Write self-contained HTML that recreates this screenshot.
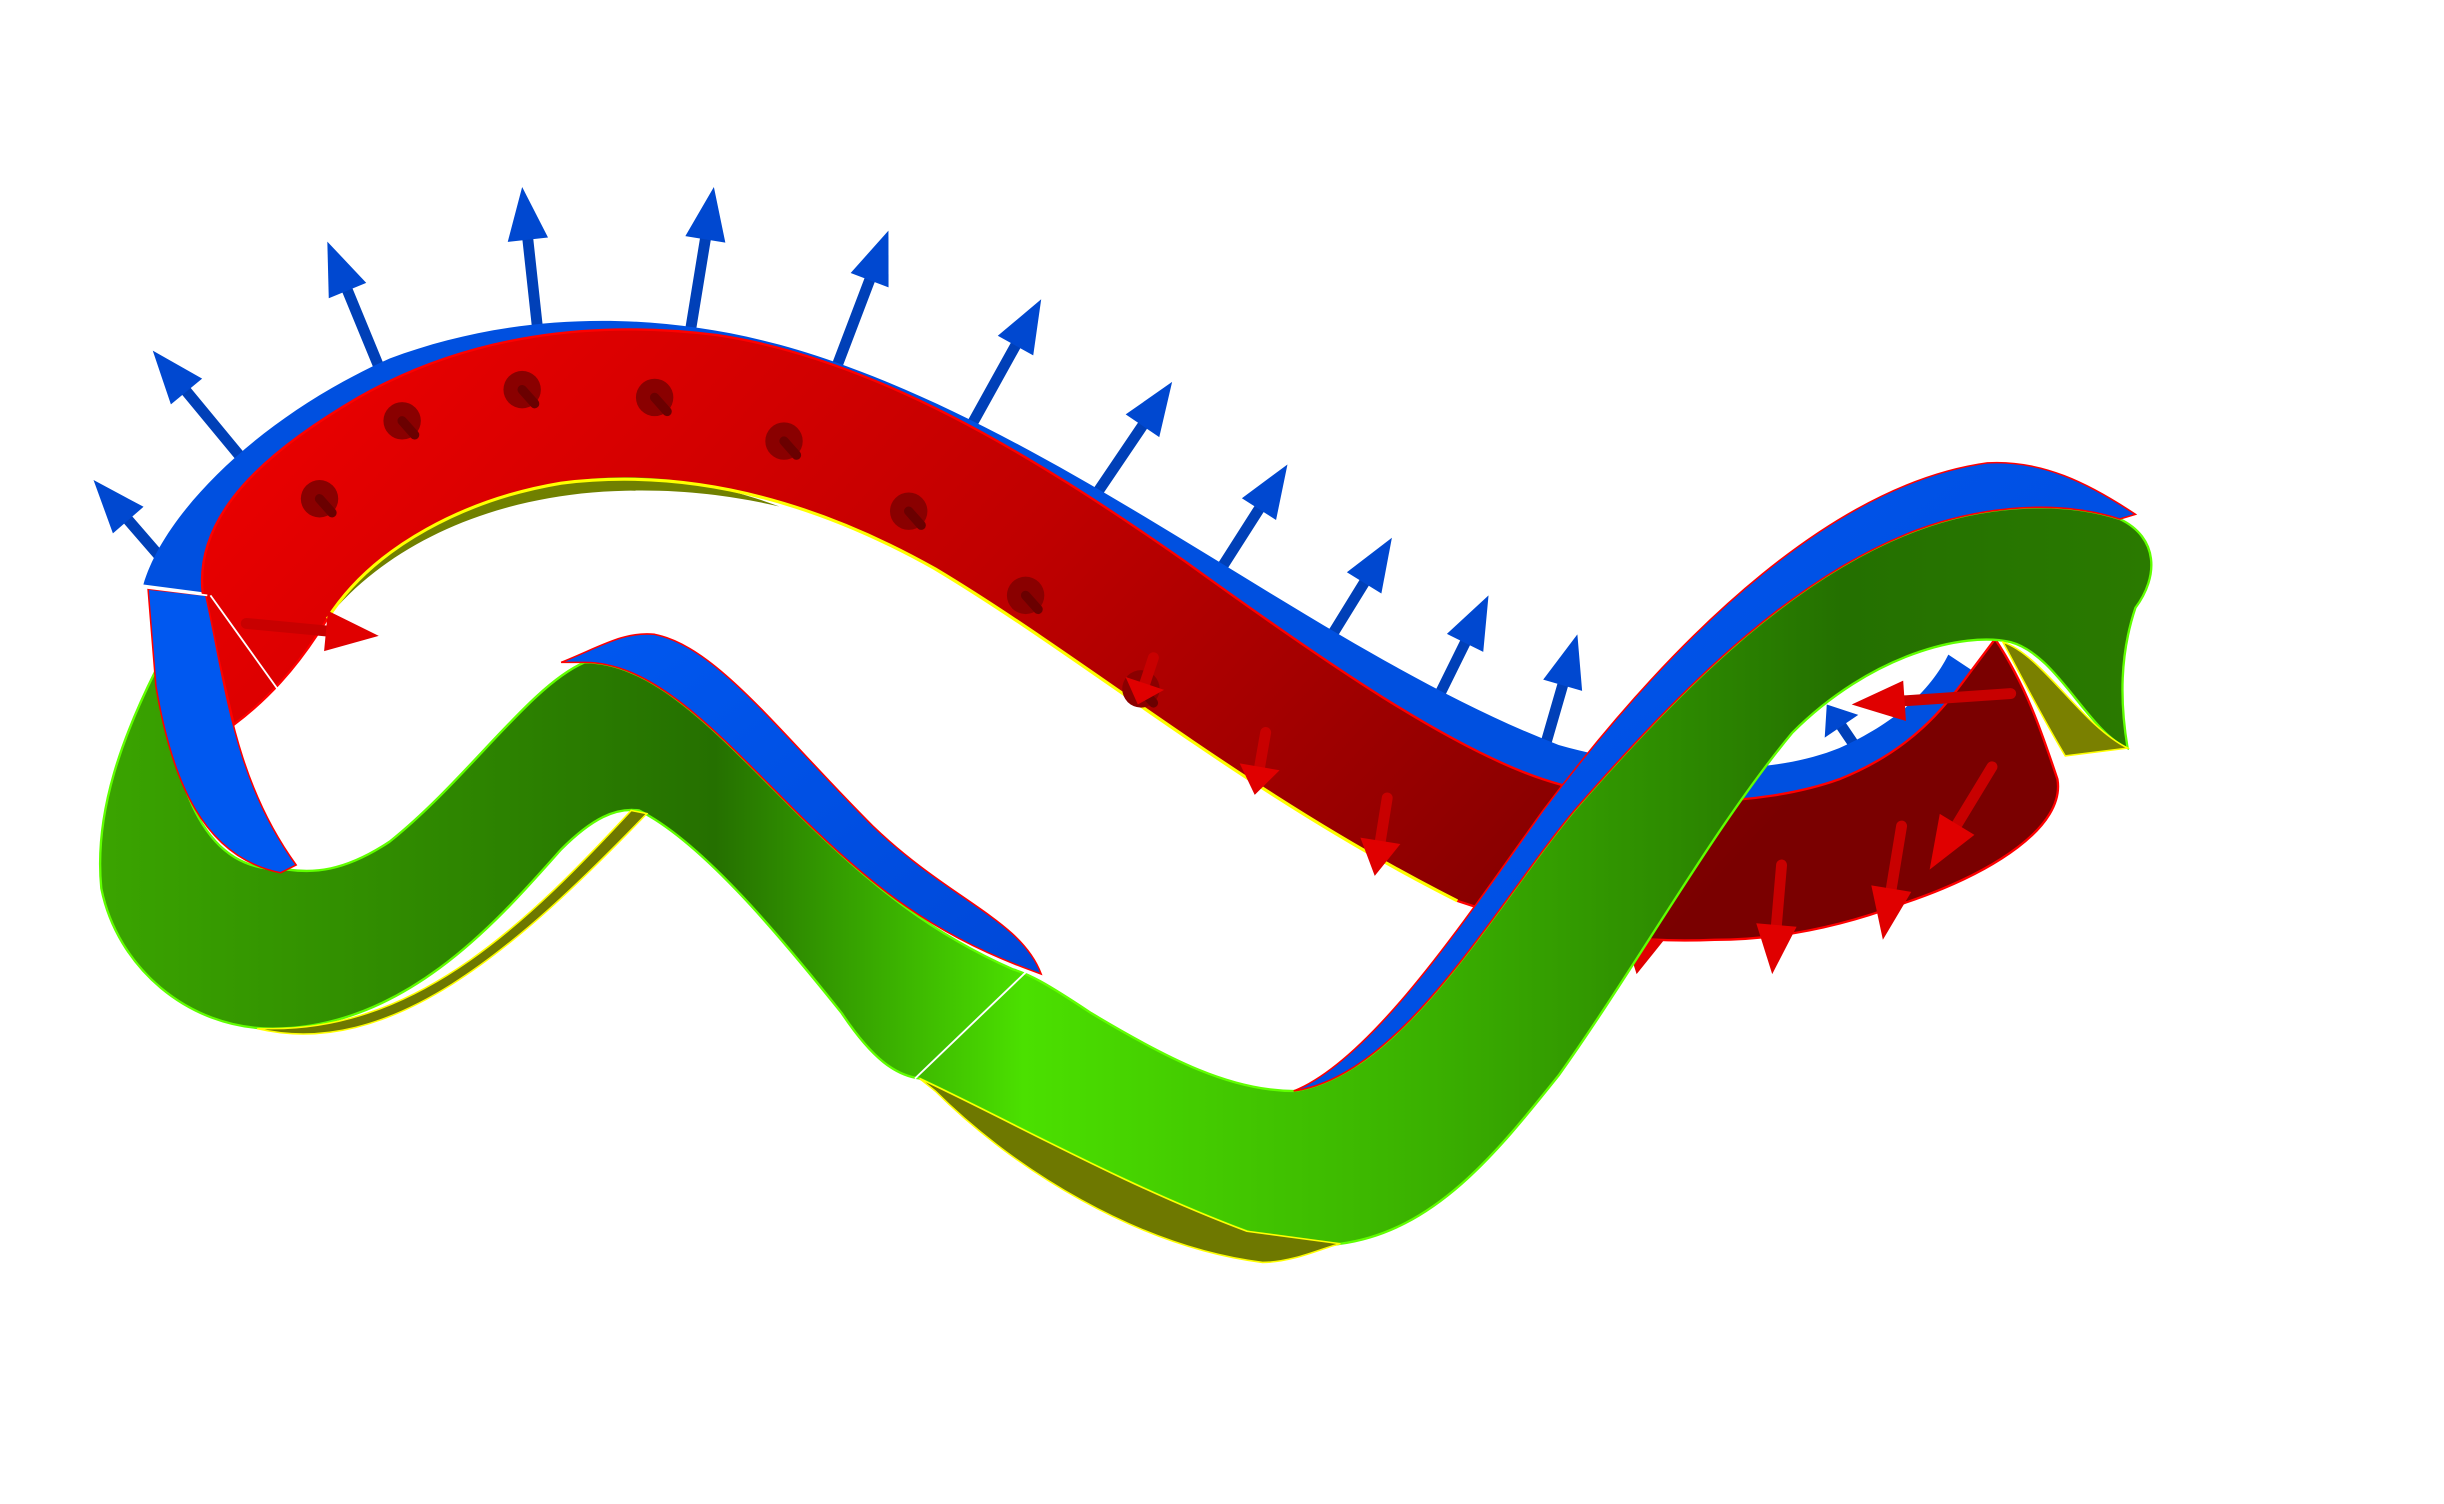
<!DOCTYPE html>
<html><head><meta charset="utf-8"><style>
html,body{margin:0;padding:0;background:#fff;}
svg{display:block;}
</style></head><body>
<svg width="2444" height="1504" viewBox="0 0 1568 965" preserveAspectRatio="none" xmlns="http://www.w3.org/2000/svg">
<defs>
<linearGradient id="gRed" x1="0" y1="0" x2="1" y2="0.3">
<stop offset="0" stop-color="#f00000"/><stop offset="0.5" stop-color="#c00000"/><stop offset="1" stop-color="#7a0000"/>
</linearGradient>
<linearGradient id="gGreen" x1="0" y1="0" x2="1" y2="0">
<stop offset="0" stop-color="#3aa400"/><stop offset="0.3" stop-color="#257000"/><stop offset="0.45" stop-color="#4be000"/><stop offset="0.65" stop-color="#3ab000"/><stop offset="0.85" stop-color="#247000"/><stop offset="1" stop-color="#2a7a00"/>
</linearGradient>
<linearGradient id="gBlue" x1="0" y1="0" x2="1" y2="1">
<stop offset="0" stop-color="#0058f0"/><stop offset="1" stop-color="#0048d8"/>
</linearGradient>
</defs>

<g id="blue-arrows"></g>

<path fill="#0050e0" d="M92,375 C105,330 165,268 250,230 C330,200 430,195 535,232 C700,290 850,420 1000,478 C1060,495 1130,500 1180,480 C1220,462 1240,440 1250,420 L1265,430 C1250,450 1230,480 1180,500 C1130,518 1050,520 990,500 C930,480 850,425 760,360 C660,290 560,230 460,215 C380,205 300,215 230,255 C170,290 125,330 130,380 Z"/>

<path fill="url(#gRed)" stroke="#ff0000" stroke-width="1.5" d="M130,380 C125,330 170,290 230,255 C300,215 380,205 460,215 C560,230 660,290 760,360 C850,425 930,480 990,500 C1050,520 1130,518 1180,500 C1230,480 1250,450 1265,430 L1280,410 C1300,440 1310,470 1320,500 C1325,530 1280,560 1220,580 C1180,595 1140,603 1100,603 C1050,605 1000,600 935,578 C800,510 700,425 600,365 C520,320 440,300 360,310 C300,320 240,350 210,397 C190,430 170,450 150,465 Z"/>
<path fill="#708000" d="M213,393 C250,350 310,322 380,316 C430,312 470,318 500,325 C450,306 400,302 360,310 C300,320 240,350 210,397 Z"/>
<path fill="none" stroke="#ffff00" stroke-width="2" d="M210,397 C240,350 300,320 360,310 C440,300 520,320 600,365 C700,425 800,510 935,578"/>
<line x1="135" y1="382" x2="178" y2="442" stroke="#fff" stroke-width="1.2"/>

<g id="red-knobs"></g>
<g id="red-arrows"></g>

<path fill="url(#gGreen)" stroke="#60ff00" stroke-width="1.5" d="M100,430 C80,470 60,520 65,570 C75,620 120,660 175,660 C260,660 320,590 360,545 C380,525 395,518 410,520 C450,540 500,600 540,650 C560,680 575,690 590,692 C650,720 720,760 800,790 C830,800 850,800 860,798 C920,790 960,740 1000,690 C1050,620 1100,530 1150,470 C1200,420 1260,405 1290,412 C1320,420 1340,470 1365,480 C1360,450 1360,420 1370,390 C1385,370 1385,345 1360,333 C1320,320 1270,325 1230,340 C1150,370 1080,440 1010,520 C960,580 900,690 830,700 C790,700 750,680 700,650 C670,630 660,625 650,622 C600,600 560,570 510,520 C460,470 420,425 375,425 C340,440 300,500 250,540 C220,560 200,560 185,558 C130,560 115,510 100,430 Z"/>
<path fill="#6e7800" stroke="#ffff00" stroke-width="1" d="M165,660 C250,680 330,610 415,522 L405,520 C340,590 270,660 175,660 Z"/>
<path fill="#6e7800" stroke="#ffff00" stroke-width="1" d="M600,700 C650,750 730,800 810,810 C830,810 850,800 860,798 L800,790 C720,760 650,720 590,692 Z"/>
<path fill="#7a8000" stroke="#ffff00" stroke-width="1" d="M1285,412 C1310,420 1335,465 1365,480 L1325,485 C1310,460 1300,440 1285,412 Z"/>
<line x1="587" y1="692" x2="660" y2="622" stroke="#fff" stroke-width="1.2"/>
<line x1="1320" y1="487" x2="1365" y2="482" stroke="#fff" stroke-width="1.2"/>

<path fill="url(#gBlue)" stroke="#ff0000" stroke-width="1" d="M360,425 C385,415 400,405 420,407 C460,415 500,470 560,530 C610,578 655,590 668,625 L660,622 C600,600 560,570 510,520 C460,470 420,425 375,425 Z"/>
<path fill="url(#gBlue)" stroke="#ff0000" stroke-width="1" d="M830,700 C880,680 940,590 990,520 C1080,400 1180,310 1275,297 C1310,295 1340,310 1370,330 L1360,333 C1320,320 1270,325 1230,340 C1150,370 1080,440 1010,520 C960,580 900,690 830,700 Z"/>
<path fill="#0058f0" stroke="#ff0000" stroke-width="1" d="M95,378 L132,382 C145,440 150,500 190,555 L180,560 C130,550 110,500 100,440 Z"/>
<line x1="93" y1="377" x2="133" y2="382" stroke="#fff" stroke-width="1.2"/>
</svg>
<script>
var blueBases=[[112,368],[160,300],[245,240],[345,212],[443,212],[535,240],[622,275],[700,322],[775,378],[845,423],[915,463],[988,490],[1193,483]];
var blueTips=[[60,308],[98,225],[210,155],[335,120],[458,120],[570,148],[668,192],[752,245],[826,298],[893,345],[955,382],[1012,407],[1172,452]];
var redBases=[[740,422],[812,470],[890,512],[1060,572],[1143,555],[1220,530],[1278,492],[158,400],[1290,445]];
var redTips=[[730,452],[805,510],[882,562],[1050,625],[1137,625],[1208,603],[1238,558],[243,408],[1188,452]];
var knobs=[[205,320],[258,270],[335,250],[420,255],[503,283],[583,328],[658,382],[732,442]];
var NS='http://www.w3.org/2000/svg';
function arrow(g,b,t,col,dark,hw){
  var dx=t[0]-b[0],dy=t[1]-b[1],L=Math.sqrt(dx*dx+dy*dy),ux=dx/L,uy=dy/L,px=-uy,py=ux;
  var hLen=Math.min(34,L*0.45);
  var sx=t[0]-ux*hLen,sy=t[1]-uy*hLen;
  var ln=document.createElementNS(NS,'line');
  
  
  ln.setAttribute('x1',b[0]);ln.setAttribute('y1',b[1]);ln.setAttribute('x2',sx);ln.setAttribute('y2',sy);
  ln.setAttribute('stroke',dark);ln.setAttribute('stroke-width','7');ln.setAttribute('stroke-linecap','round');
  g.appendChild(ln);
  var hd=document.createElementNS(NS,'polygon');
  
  
  hd.setAttribute('points',t[0]+','+t[1]+' '+(sx+px*hw)+','+(sy+py*hw)+' '+(sx-px*hw)+','+(sy-py*hw));
  hd.setAttribute('fill',col);
  g.appendChild(hd);
}
var gb=document.getElementById('blue-arrows');
for(var i=0;i<blueBases.length;i++){arrow(gb,blueBases[i],blueTips[i],'#0048d0','#0040b8',13);}
var gr=document.getElementById('red-arrows');
for(var j=0;j<redBases.length;j++){arrow(gr,redBases[j],redTips[j],'#e00000','#c80000',13);}
var gk=document.getElementById('red-knobs');
for(var k=0;k<knobs.length;k++){
  var c=document.createElementNS(NS,'circle');
  
  
  c.setAttribute('cx',knobs[k][0]);c.setAttribute('cy',knobs[k][1]);c.setAttribute('r','12');
  c.setAttribute('fill','#8a0000');
  gk.appendChild(c);
  var s=document.createElementNS(NS,'line');
  
  
  s.setAttribute('x1',knobs[k][0]);s.setAttribute('y1',knobs[k][1]);
  s.setAttribute('x2',knobs[k][0]+8);s.setAttribute('y2',knobs[k][1]+9);
  s.setAttribute('stroke','#6a0000');s.setAttribute('stroke-width','6');s.setAttribute('stroke-linecap','round');
  gk.appendChild(s);
}
</script>
</body></html>
